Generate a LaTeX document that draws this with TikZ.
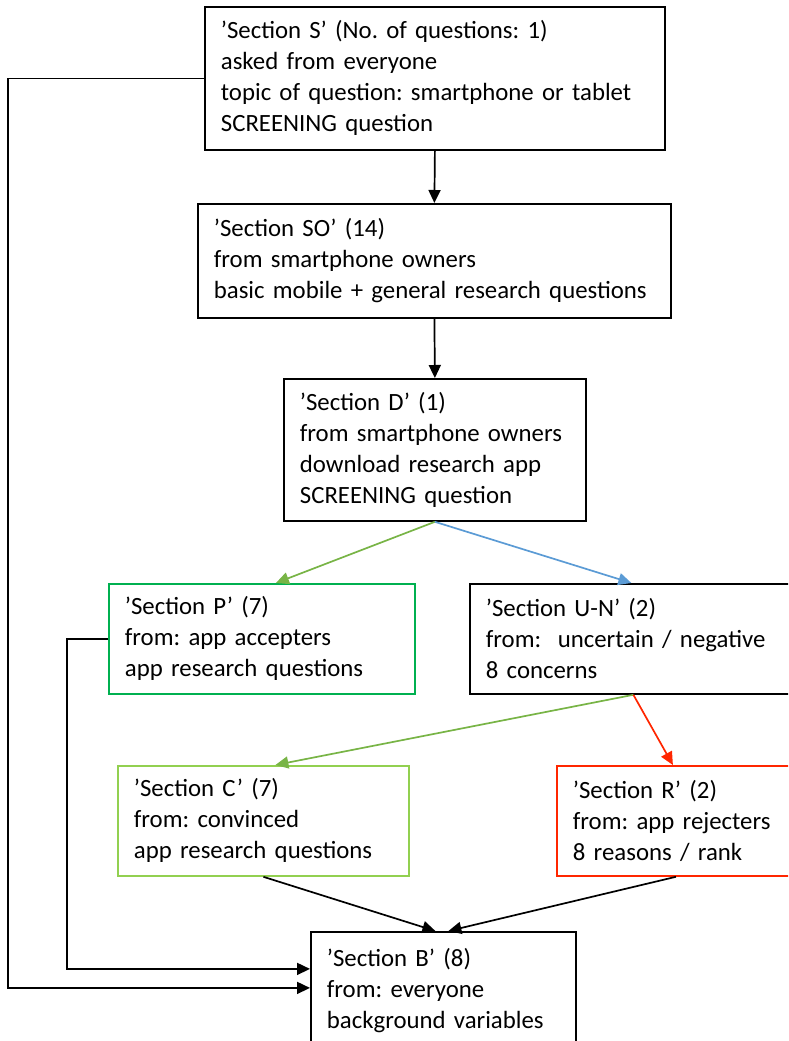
\documentclass[tikz,border=0pt]{standalone}
\usepackage{fontspec}
\setmainfont{Carlito}
\usetikzlibrary{arrows.meta, positioning, calc}
\definecolor{boxgreen}{RGB}{0,176,80}
\definecolor{lightgreen}{RGB}{146,208,80}
\definecolor{arrowgreen}{RGB}{120,180,70}
\definecolor{arrowblue}{RGB}{91,155,213}
\definecolor{arrowred}{RGB}{255,38,0}
\frenchspacing
\hyphenpenalty=10000

\begin{document}
\begin{tikzpicture}[x=1pt, y=-1pt,
	section/.style={draw, line width=1.8pt, anchor=north west, align=left,
		inner xsep=16pt, inner ysep=0pt,
		font=\fontsize{24.8}{31}\selectfont},
	flow/.style={line width=1.7pt, -{Triangle[length=13pt,width=12pt]}}]
		
		% Frame
		\useasboundingbox (0,0) rectangle (788,1041);
		\clip (0,0) rectangle (788,1041);
		
		% Sections
		\node[section, text width=428pt, minimum height=143pt] (secS) at (204,6)
		{’Section S’ (No. of questions: 1)\\ asked from everyone\\ topic of question: smartphone or tablet\\ SCREENING question};
		\node[section, text width=441pt, minimum height=114pt] (secSO) at (197,203)
		{’Section SO’ (14)\\ from smartphone owners\\ basic mobile + general research questions};
		\node[section, text width=270pt, minimum height=142pt] (secD) at (283,378)
		{’Section D’ (1)\\ from smartphone owners\\ download research app\\ SCREENING question};
		\node[section, draw=boxgreen, text width=274pt, minimum height=110pt] (secP) at (108,583)
		{’Section P’ (7)\\ from: app accepters\\ app research questions};
		\node[section, text width=299pt, minimum height=110pt] (secUN) at (469,583)
		{’Section U-N’ (2)\\ from:\ \ uncertain / negative\\ 8 concerns};
		\node[section, draw=lightgreen, text width=259pt, minimum height=110pt] (secC) at (117,765)
		{’Section C’ (7)\\ from: convinced\\ app research questions};
		\node[section, draw=arrowred, text width=212pt, minimum height=110pt] (secR) at (556,765)
		{’Section R’ (2)\\ from: app rejecters\\ 8 reasons / rank};
		\node[section, text width=233pt, minimum height=118pt] (secB) at (310,931)
		{’Section B’ (8)\\ from: everyone\\ background variables};
		
		% Main flow
		\draw[flow] (secS.south) -- (secSO.north);
		\draw[flow] (secSO.south) -- (secD.north);
		\draw[flow, arrowgreen] (secD.south) -- ([xshift=14pt]secP.north);
		\draw[flow, arrowblue] (secD.south) -- ([xshift=-4pt]secUN.north);
		\draw[flow, arrowgreen] ([xshift=-2pt]secUN.south) -- ([xshift=12pt]secC.north);
		\draw[flow, arrowred] ([xshift=-2pt]secUN.south) -- ([xshift=-6pt]secR.north);
		
		% Into background section
		\draw[flow] (secC.south) -- ([xshift=-8pt]secB.north);
		\draw[flow] ([xshift=-3pt]secR.south) -- ([xshift=5pt]secB.north);
		\draw[flow] (secP.west) -- ++(-41,0) |- ([yshift=22pt]secB.west);
		\draw[flow] (secS.west) -- ++(-196,0) |- ([yshift=3pt]secB.west);
		
	\end{tikzpicture}
\end{document}
